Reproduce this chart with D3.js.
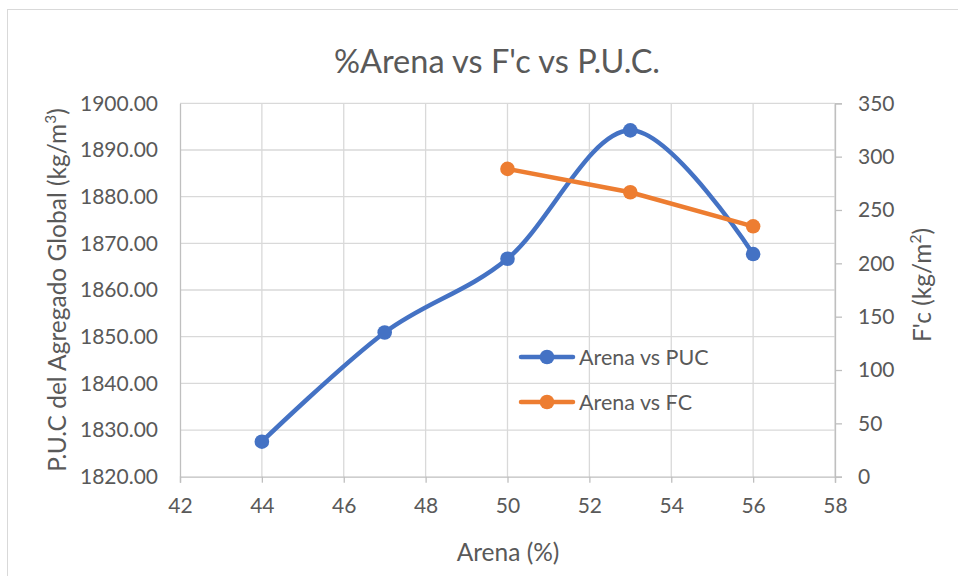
<!DOCTYPE html>
<html>
<head>
<meta charset="utf-8">
<script src="https://cdn.jsdelivr.net/npm/d3@7"></script>
<style>
  html, body { margin: 0; padding: 0; background: #fff; }
  svg { display: block; }
  text { font-family: Lato, "Open Sans", sans-serif; fill: #595959; }
</style>
</head>
<body>
<svg id="chart" width="958" height="576"></svg>
<script>
// Sand percentage (x) against unit weight (left axis) and compressive strength (right axis)
const arenaPUC = [44, 47, 50, 53, 56];
const pucValues = [1827.5, 1850.9, 1866.7, 1894.2, 1867.7];
const arenaFC = [50, 53, 56];
const fcValues = [288.5, 266.6, 234.7];

const xTicks = [42, 44, 46, 48, 50, 52, 54, 56, 58];
const leftTicks = [1820, 1830, 1840, 1850, 1860, 1870, 1880, 1890, 1900];
const rightTicks = [0, 50, 100, 150, 200, 250, 300, 350];

const seriesNames = ["Arena vs PUC", "Arena vs FC"];
const colors = ["#4472C4", "#ED7D31"];

const svg = d3.select("#chart");
const W = 958, H = 576;
const plot = { left: 180, right: 835, top: 103.3, bottom: 476.7 };
const tickFont = "21px", titleFont = "24.5px";

// chart frame
svg.append("rect")
  .attr("x", 7.5).attr("y", 9.5)
  .attr("width", W).attr("height", H)
  .attr("fill", "#fff").attr("stroke", "#D9D9D9").attr("stroke-width", 1);

const x = d3.scaleLinear().domain([42, 58]).range([plot.left, plot.right]);
const yL = d3.scaleLinear().domain([1820, 1900]).range([plot.bottom, plot.top]);
const yR = d3.scaleLinear().domain([0, 350]).range([plot.bottom, plot.top]);

// gridlines
const grid = svg.append("g").attr("stroke", "#D9D9D9").attr("stroke-width", 1.3);
grid.selectAll("line.v").data(xTicks.slice(1)).join("line")
  .attr("x1", d => x(d)).attr("x2", d => x(d))
  .attr("y1", plot.top).attr("y2", plot.bottom);
grid.selectAll("line.h").data(leftTicks.slice(1)).join("line")
  .attr("x1", plot.left).attr("x2", plot.right)
  .attr("y1", d => yL(d)).attr("y2", d => yL(d));

// axes
const axisColor = "#BFBFBF";
const xAxis = svg.append("g").attr("transform", `translate(0,${plot.bottom})`)
  .call(d3.axisBottom(x).tickValues(xTicks).tickSize(6).tickPadding(15));
const yAxisL = svg.append("g").attr("transform", `translate(${plot.left},0)`)
  .call(d3.axisLeft(yL).tickValues(leftTicks).tickSize(0).tickPadding(22).tickFormat(d3.format(".2f")));
const yAxisR = svg.append("g").attr("transform", `translate(${plot.right},0)`)
  .call(d3.axisRight(yR).tickValues(rightTicks).tickSize(7).tickPadding(16));

[xAxis, yAxisL, yAxisR].forEach(g => {
  g.selectAll("path.domain").attr("stroke", axisColor).attr("stroke-width", 1.3);
  g.selectAll(".tick line").attr("stroke", axisColor).attr("stroke-width", 1.3);
  g.selectAll(".tick text").attr("fill", "#595959").style("font-size", tickFont)
    .style("font-family", "Lato, sans-serif");
});

// title
svg.append("text").attr("x", 497).attr("y", 73).attr("text-anchor", "middle")
  .style("font-size", "32.5px").text("%Arena vs F'c vs P.U.C.");

// axis titles
svg.append("text").attr("x", 508).attr("y", 561).attr("text-anchor", "middle")
  .style("font-size", titleFont).text("Arena (%)");

const lt = svg.append("text")
  .attr("transform", "translate(66,290) rotate(-90)")
  .attr("text-anchor", "middle").style("font-size", titleFont);
lt.append("tspan").text("P.U.C del Agregado Global (kg/m");
lt.append("tspan").attr("dy", -10).style("font-size", "15.5px").text("3");
lt.append("tspan").attr("dy", 10).text(")");

const rt = svg.append("text")
  .attr("transform", "translate(931,285) rotate(-90)")
  .attr("text-anchor", "middle").style("font-size", titleFont);
rt.append("tspan").text("F'c (kg/m");
rt.append("tspan").attr("dy", -10).style("font-size", "15.5px").text("2");
rt.append("tspan").attr("dy", 10).text(")");

// series
const pucData = arenaPUC.map((a, i) => [a, pucValues[i]]);
const fcData = arenaFC.map((a, i) => [a, fcValues[i]]);

const smooth = d3.line().x(d => x(d[0])).y(d => yL(d[1])).curve(d3.curveCatmullRom.alpha(0));
const straight = d3.line().x(d => x(d[0])).y(d => yR(d[1]));

svg.append("path").datum(pucData).attr("d", smooth)
  .attr("fill", "none").attr("stroke", colors[0]).attr("stroke-width", 4.5).attr("stroke-linecap", "round");
svg.append("g").selectAll("circle").data(pucData).join("circle")
  .attr("cx", d => x(d[0])).attr("cy", d => yL(d[1])).attr("r", 7.3).attr("fill", colors[0]);

svg.append("path").datum(fcData).attr("d", straight)
  .attr("fill", "none").attr("stroke", colors[1]).attr("stroke-width", 4.5).attr("stroke-linecap", "round");
svg.append("g").selectAll("circle").data(fcData).join("circle")
  .attr("cx", d => x(d[0])).attr("cy", d => yR(d[1])).attr("r", 7.3).attr("fill", colors[1]);

// legend
const legend = svg.append("g");
const legendY = [357, 402];
seriesNames.forEach((name, i) => {
  const g = legend.append("g").attr("transform", `translate(0,${legendY[i]})`);
  g.append("line").attr("x1", 521).attr("x2", 573).attr("y1", 0).attr("y2", 0)
    .attr("stroke", colors[i]).attr("stroke-width", 4.5).attr("stroke-linecap", "round");
  g.append("circle").attr("cx", 547).attr("cy", 0).attr("r", 7.3).attr("fill", colors[i]);
  g.append("text").attr("x", 579).attr("y", 7.5).style("font-size", "21.5px").text(name);
});
</script>
</body>
</html>
